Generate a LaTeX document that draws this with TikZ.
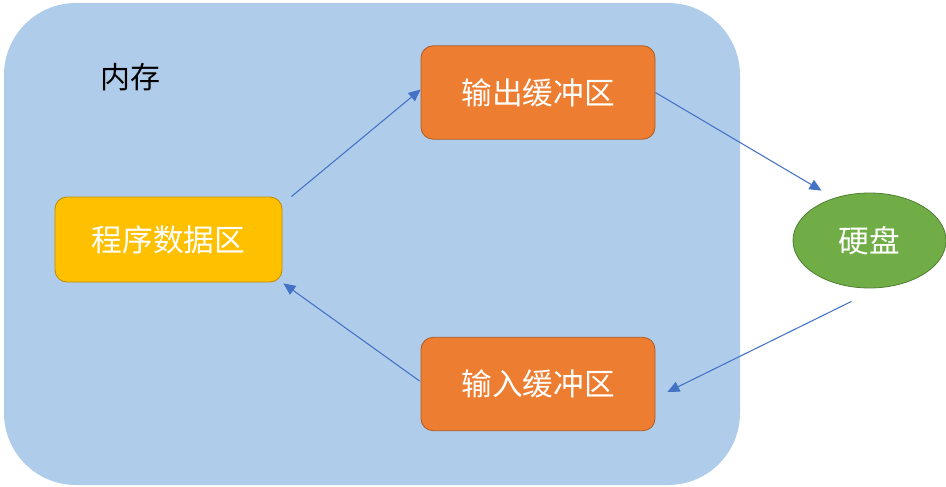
\documentclass[tikz,border=0pt]{standalone}
\usepackage{fontspec}
\newfontfamily\cjk{Noto Sans CJK SC}
\usepackage{tikz}
\usetikzlibrary{shapes.geometric,arrows.meta}

\definecolor{membg}{RGB}{175,205,234}
\definecolor{bufor}{RGB}{237,125,49}
\definecolor{bufedge}{RGB}{174,90,33}
\definecolor{progyl}{RGB}{255,192,0}
\definecolor{progedge}{RGB}{188,140,0}
\definecolor{diskgr}{RGB}{112,173,71}
\definecolor{diskedge}{RGB}{80,126,50}
\definecolor{flowbl}{RGB}{68,114,196}

\tikzset{
    buf/.style={draw=bufedge,fill=bufor,rounded corners=9pt,line width=0.6pt,
        minimum width=175.5pt,minimum height=70pt,inner sep=0pt,
        text=white,font=\cjk\fontsize{23}{27}\selectfont},
    prog/.style={buf,draw=progedge,fill=progyl,minimum width=170.25pt,minimum height=63.75pt},
    disk/.style={ellipse,draw=diskedge,fill=diskgr,line width=0.6pt,
        minimum width=114.75pt,minimum height=71.25pt,inner sep=0pt,
        text=white,font=\cjk\fontsize{23}{27}\selectfont},
    flow/.style={draw=flowbl,line width=0.8pt,-{Triangle[length=9pt,width=8pt]}}
}

\begin{document}
\begin{tikzpicture}[x=0.75pt,y=0.75pt,yscale=-1,xscale=1]
    \useasboundingbox (0,0) rectangle (946,486);

    % memory area
    \fill [membg,rounded corners=54pt] (4,3) rectangle (740,485);
    \node (memlbl) at (130,77) [font=\cjk\fontsize{22.5}{27}\selectfont] {内存};

    % boxes
    \node (out) at (538,92.5) [buf] {输出缓冲区};
    \node (prog) at (168.5,239.5) [prog] {程序数据区};
    \node (in) at (538,384) [buf] {输入缓冲区};
    \node (disk) at (869.5,240.5) [disk] {硬盘};

    % data flow
    \draw [flow] ([shift={(9,0)}]prog.north east) -- ([shift={(0,-3)}]out.west);
    \draw [flow] (out.east) -- ([shift={(-48,-2)}]disk.north);
    \draw [flow] ([shift={(-18,13)}]disk.south) -- ([shift={(12,8)}]in.east);
    \draw [flow] ([shift={(-1,-3)}]in.west) -- ([shift={(1,1)}]prog.south east);

\end{tikzpicture}
\end{document}
